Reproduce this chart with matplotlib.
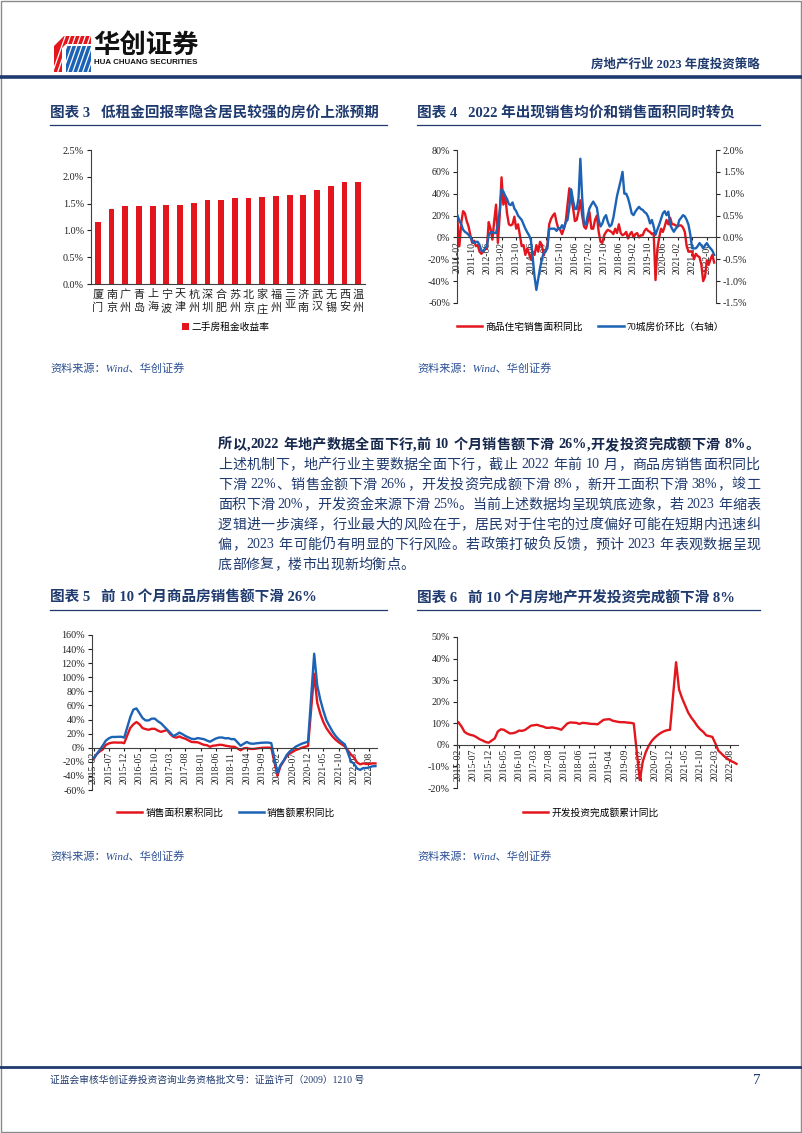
import re
import numpy as np
import pandas as pd
import matplotlib
matplotlib.use('Agg')
import matplotlib.pyplot as plt
from matplotlib.patches import Polygon, Rectangle
from matplotlib.lines import Line2D

plt.rcParams['font.family'] = ['Liberation Serif', 'Noto Sans CJK SC']
plt.rcParams['axes.unicode_minus'] = False

W, H = 802, 1133
RED = '#e3161d'
BLUE = '#1c62b5'
NAVY = '#1f3a6e'
AXC = '#404040'

# === 图表3 数据 ===
cities = ['厦门', '南京', '广州', '青岛', '上海', '宁波', '天津', '杭州', '深圳', '合肥',
          '苏州', '北京', '家庄', '福州', '三亚', '济南', '武汉', '无锡', '西安', '温州']
rent_yield = [1.16, 1.40, 1.46, 1.46, 1.46, 1.47, 1.48, 1.52, 1.56, 1.56,
              1.60, 1.60, 1.63, 1.65, 1.66, 1.66, 1.76, 1.83, 1.91, 1.91]

# === 图表4 数据 (2011-02 ~ 2022-10, 月度) ===
c4_start = '2011-02'
c4_ticks = ['2011-02', '2011-10', '2012-06', '2013-02', '2013-10', '2014-06', '2015-02',
            '2015-10', '2016-06', '2017-02', '2017-10', '2018-06', '2019-02', '2019-10',
            '2020-06', '2021-02', '2021-10', '2022-06']
res_area_yoy = [
    14, -8, 13, 24, 22, 15, 10, 2, -5, -3, -8,
    -7, -13, -15, -13, -11, -10, 14, 8, -2, 15, 30, -5,
    20, 55, 30, 38, 22, 12, 11, 12, 19, 8, 12, 2,
    -8, -7, -16, -10, -15, -20, -13, -16, -7, -13, -4, -7,
    -16, -12, -8, 12, 17, 20, 22, 14, 8, 7, 3, 8,
    14, 30, 45, 36, 27, 15, 16, 24, 34, 20, 10, 8,
    14, 23, 8, 8, 16, 20, 5, -4, -5, 2, 5, 7,
    6, 5, 3, 8, 4, 12, 4, 2, 3, 5, -1, 3,
    5, 0, 3, 4, 0, 2, 2, 6, 8, 6, 5, 3,
    4, -39, -11, 0, 8, 5, 10, 16, 12, 18, 12, 12,
    11, 10, 11, 11, 9, 5, -8, -13, -13, -13, -20, -15,
    -17, -18, -25, -40, -36, -21, -25, -20, -16, -23,
]
price70_mom = [
    0.50, 0.38, 0.30, 0.18, 0.13, 0.10, 0.06, 0.00, -0.08, -0.13, -0.10,
    -0.10, -0.17, -0.30, -0.32, -0.25, -0.20, 0.05, 0.12, 0.12, 0.10, 0.10, 0.30,
    0.60, 1.10, 1.05, 0.95, 0.88, 0.76, 0.74, 0.80, 0.66, 0.60, 0.50, 0.45,
    0.40, 0.30, 0.20, 0.12, 0.05, -0.06, -0.45, -0.90, -1.20, -0.95, -0.70, -0.50,
    -0.35, -0.32, -0.25, 0.20, 0.20, 0.20, 0.20, 0.15, 0.22, 0.20, 0.28, 0.20,
    0.35, 0.40, 0.70, 1.10, 0.85, 0.65, 0.65, 0.90, 1.80, 0.90, 0.30, 0.30,
    0.50, 0.67, 0.75, 0.82, 0.75, 0.68, 0.40, 0.25, 0.32, 0.45, 0.51, 0.35,
    0.25, 0.29, 0.45, 0.70, 0.95, 1.12, 1.30, 1.50, 1.00, 1.00, 0.90, 0.74,
    0.55, 0.51, 0.59, 0.65, 0.70, 0.65, 0.63, 0.58, 0.55, 0.47, 0.32, 0.40,
    0.25, 0.06, 0.18, 0.29, 0.42, 0.55, 0.60, 0.51, 0.59, 0.29, 0.20, 0.13,
    0.20, 0.25, 0.40, 0.45, 0.51, 0.48, 0.40, 0.29, 0.06, -0.25, -0.25, -0.25,
    -0.20, -0.13, -0.18, -0.25, -0.18, -0.13, -0.20, -0.25, -0.30, -0.40,
]

# === 图表5/6 数据 (2015-02 ~ 2022-10, 累计同比, 无1月) ===
c56_start = '2015-02'
c56_end = '2022-10'
c56_ticks = ['2015-02', '2015-07', '2015-12', '2016-05', '2016-10', '2017-03', '2017-08',
             '2018-01', '2018-06', '2018-11', '2019-04', '2019-09', '2020-02', '2020-07',
             '2020-12', '2021-05', '2021-10', '2022-03', '2022-08']
area_cum_yoy = [
    -16.3, -9.2, -5.4, -2.6, 3.9, 6.1, 7.2, 7.5, 7.2, 7.4, 6.5,
    28.2, 33.1, 36.5, 33.2, 27.9, 26.4, 25.5, 26.9, 26.8, 24.3, 22.5,
    25.1, 19.5, 15.7, 14.3, 16.1, 14.0, 12.7, 10.3, 8.2, 7.9, 7.7,
    4.1, 3.6, 1.3, 2.9, 3.3, 4.2, 4.0, 2.9, 2.2, 1.4, 1.3,
    -3.6, -0.9, -0.3, -1.6, -1.8, -1.3, -0.6, -0.1, 0.1, 0.2, -0.1,
    -39.9, -26.3, -19.3, -12.3, -8.4, -5.8, -3.3, -1.8, 0.0, 1.3, 2.6,
    104.9, 63.8, 48.1, 36.3, 27.7, 21.5, 15.9, 11.3, 7.8, 4.8, 1.9,
    -9.6, -13.8, -20.9, -23.6, -22.2, -23.1, -23.0, -22.2, -22.3,
]
amount_cum_yoy = [
    -15.2, -9.3, -3.2, 3.0, 10.0, 13.4, 15.3, 15.3, 15.5, 15.6, 14.4,
    43.6, 54.1, 55.8, 49.0, 42.1, 38.7, 38.8, 41.3, 41.3, 37.5, 34.8,
    25.8, 21.5, 16.6, 18.6, 21.5, 19.3, 16.6, 14.6, 12.6, 12.2, 13.7,
    12.2, 10.2, 8.5, 11.0, 13.2, 14.5, 14.5, 13.3, 13.6, 12.1, 12.2,
    2.8, 5.6, 8.1, 6.1, 5.6, 6.2, 6.7, 7.1, 7.3, 7.3, 6.5,
    -35.9, -24.7, -18.6, -10.6, -5.4, -2.1, 1.6, 3.7, 5.8, 7.2, 8.7,
    133.4, 88.5, 68.2, 52.4, 38.9, 30.7, 22.8, 16.6, 11.8, 8.0, 4.8,
    -19.3, -22.7, -29.5, -31.5, -28.9, -28.8, -27.9, -26.3, -26.1,
]
invest_cum_yoy = [
    10.4, 8.5, 6.0, 5.1, 4.6, 4.3, 3.5, 2.6, 2.0, 1.3, 1.0,
    3.0, 6.2, 7.2, 7.0, 6.1, 5.3, 5.4, 5.8, 6.6, 6.5, 6.9,
    8.9, 9.1, 9.3, 8.8, 8.5, 7.9, 7.9, 8.1, 7.8, 7.5, 7.0,
    9.9, 10.4, 10.3, 10.2, 9.7, 10.2, 10.1, 9.9, 9.7, 9.7, 9.5,
    11.6, 11.8, 11.9, 11.2, 10.9, 10.6, 10.5, 10.5, 10.3, 10.2, 9.9,
    -16.3, -7.7, -3.3, -0.3, 1.9, 3.4, 4.6, 5.6, 6.3, 6.8, 7.0,
    38.3, 25.6, 21.6, 18.3, 15.0, 12.7, 10.9, 8.8, 7.2, 6.0, 4.4,
    3.7, 0.7, -2.7, -4.0, -5.4, -6.4, -7.4, -8.0, -8.8,
]

lead = '所以,2022 年地产数据全面下行,前 10 个月销售额下滑 26%,开发投资完成额下滑 8%。'
paragraph = [
    '上述机制下，地产行业主要数据全面下行，截止 2022 年前 10 月，商品房销售面积同比',
    '下滑 22%、销售金额下滑 26%，开发投资完成额下滑 8%，新开工面积下滑 38%，竣工',
    '面积下滑 20%，开发资金来源下滑 25%。当前上述数据均呈现筑底迹象，若 2023 年缩表',
    '逻辑进一步演绎，行业最大的风险在于，居民对于住宅的过度偏好可能在短期内迅速纠',
    '偏，2023 年可能仍有明显的下行风险。若政策打破负反馈，预计 2023 年表观数据呈现',
    '底部修复，楼市出现新均衡点。',
]


def month_idx(s, start):
    p, p0 = pd.Period(s, 'M'), pd.Period(start, 'M')
    return (p.year - p0.year) * 12 + p.month - p0.month


c4_x = np.arange(len(res_area_yoy))
c56_months = [p for p in pd.period_range(c56_start, c56_end, freq='M') if p.month != 1]
c56_x = np.array([month_idx(str(p), c56_start) for p in c56_months])

fig = plt.figure(figsize=(W / 100, H / 100), dpi=100)
page = fig.add_axes([0, 0, 1, 1])
page.set_xlim(0, W)
page.set_ylim(H, 0)
page.axis('off')
renderer = fig.canvas.get_renderer()


def box(x0, y0, x1, y1):
    return fig.add_axes([x0 / W, 1 - y1 / H, (x1 - x0) / W, (y1 - y0) / H])


def style(ax, left=True, right=False):
    for s in ['top', 'right', 'left', 'bottom']:
        ax.spines[s].set_color(AXC)
        ax.spines[s].set_linewidth(0.8)
    ax.spines['top'].set_visible(False)
    ax.spines['right'].set_visible(right)
    ax.spines['left'].set_visible(left)
    ax.tick_params(colors='#222222', labelsize=7.3, width=0.8, length=3, pad=2)
    ax.patch.set_alpha(0)


def legend_at(ax, handles, labels, x, y, **kw):
    ax.legend(handles=handles, labels=labels, loc='center left',
              bbox_to_anchor=(x / W, 1 - y / H), bbox_transform=fig.transFigure,
              frameon=False, borderpad=0, borderaxespad=0, fontsize=7,
              ncol=len(handles), **kw)


def justified(x0, x1, y, line, fill=True, **kw):
    # 两端对齐：逐字放置，把多余宽度平均分到字间
    tokens = re.findall(r'[0-9A-Za-z%.]+| |.', line)
    objs, widths = [], []
    for tok in tokens:
        if tok == ' ':
            objs.append(None)
            widths.append(kw['fontsize'] * 100 / 72 * 0.25)
            continue
        t = page.text(x0, y, tok, va='center', ha='left', **kw)
        objs.append(t)
        widths.append(t.get_window_extent(renderer).width)
    gap = (x1 - x0 - sum(widths)) / (len(tokens) - 1) if fill else 0
    x = x0
    for t, w in zip(objs, widths):
        if t is not None:
            t.set_x(x)
        x += w + gap


# === 页面装饰 ===
page.add_patch(Rectangle((1, 1), W - 2, H - 2, fill=False, ec='#8a8a8a', lw=1))
page.add_patch(Polygon([(54, 46), (64, 36), (91, 36), (91, 44), (66, 44), (62, 48), (62, 72), (54, 72)],
                       closed=True, fc=RED, ec='none'))
page.add_patch(Rectangle((66, 46), 25, 26, fc=BLUE, ec='none'))
for k in range(9):
    page.plot([52 + k * 5, 66 + k * 5], [74, 34], color='white', lw=0.9)
page.text(93, 45, '华创证券', fontsize=19, fontweight='bold', color='#111111',
          family=['Noto Sans CJK SC'], va='center', ha='left')
page.text(94, 63, 'HUA CHUANG SECURITIES', fontsize=5.7, fontweight='bold', color='#111111',
          family=['Liberation Sans'], va='center', ha='left')
page.text(760, 64, '房地产行业 2023 年度投资策略', fontsize=9, fontweight='bold', color=NAVY,
          ha='right', va='center')
page.plot([0, W], [77, 77], color=NAVY, lw=2.6)

titles = [(50, 113, '图表 3   低租金回报率隐含居民较强的房价上涨预期'),
          (417, 113, '图表 4   2022 年出现销售均价和销售面积同时转负'),
          (50, 598, '图表 5   前 10 个月商品房销售额下滑 26%'),
          (417, 598, '图表 6   前 10 个月房地产开发投资完成额下滑 8%')]
for tx, ty, t in titles:
    page.text(tx, ty, t, fontsize=10.5, fontweight='bold', color=NAVY, va='center', ha='left')
for yy in (125, 610):
    page.plot([50, 387], [yy, yy], color=NAVY, lw=0.9)
    page.plot([417, 760], [yy, yy], color=NAVY, lw=0.9)

for sx, sy in [(50, 368), (417, 368), (50, 856), (417, 856)]:
    page.text(sx, sy, '资料来源：Wind、华创证券', fontsize=8, color='#2b4f94', style='italic',
              va='center', ha='left')

# 正文
justified(218, 760, 445, lead, fontsize=10.2, fontweight='bold', color='#17284d')
for k, line in enumerate(paragraph):
    justified(218, 760, 465 + 20 * k, line, fill=k < len(paragraph) - 1,
              fontsize=10.1, color=NAVY)

# 页脚
page.plot([0, W], [1067, 1067], color=NAVY, lw=2)
page.text(50, 1080, '证监会审核华创证券投资咨询业务资格批文号：证监许可（2009）1210 号',
          fontsize=7, color=NAVY, va='center', ha='left')
page.text(757, 1080, '7', fontsize=11, color=NAVY, va='center', ha='center')

# === 图表3 ===
ax3 = box(91, 150, 365, 284)
style(ax3)
xb = np.arange(len(cities))
ax3.bar(xb, rent_yield, width=0.42, color=RED)
ax3.set_xlim(-0.5, len(cities) - 0.5)
ax3.set_ylim(0, 2.5)
ax3.set_yticks(np.arange(0, 2.51, 0.5))
ax3.yaxis.set_major_formatter(lambda v, p: f'{v:.1f}%')
ax3.set_xticks(xb, ['\n'.join(c) for c in cities])
ax3.tick_params(axis='x', length=0, pad=4, labelsize=8)
for lab in ax3.get_xticklabels():
    lab.set_linespacing(1.35)
legend_at(ax3, [Rectangle((0, 0), 1, 1, fc=RED)], ['二手房租金收益率'], 182, 327,
          handlelength=0.7, handleheight=0.7, handletextpad=0.3)

# === 图表4 ===
ax4 = box(457, 150, 716, 303)
style(ax4)
ax4.plot(c4_x, res_area_yoy, color=RED, lw=1.7)
ax4.set_ylim(-60, 80)
ax4.set_yticks(np.arange(-60, 81, 20))
ax4.yaxis.set_major_formatter(lambda v, p: f'{v:.0f}%')
ax4.set_xlim(-0.3, 141)
ax4.spines['bottom'].set_position(('data', 0))
ax4.set_xticks([month_idx(t, c4_start) for t in c4_ticks], c4_ticks, rotation=90)
ax4.tick_params(axis='x', length=2, pad=1, labelsize=7)
ax4r = ax4.twinx()
style(ax4r, left=False, right=True)
ax4r.spines['bottom'].set_visible(False)
ax4r.plot(c4_x, price70_mom, color=BLUE, lw=1.7)
ax4r.set_ylim(-1.5, 2.0)
ax4r.set_yticks(np.arange(-1.5, 2.01, 0.5))
ax4r.yaxis.set_major_formatter(lambda v, p: f'{v:.1f}%')
legend_at(ax4r, [Line2D([], [], color=RED, lw=1.8), Line2D([], [], color=BLUE, lw=1.8)],
          ['商品住宅销售面积同比', '70城房价环比（右轴）'], 457, 327,
          handlelength=2.6, handletextpad=0.3, columnspacing=1.6)

# === 图表5 ===
ax5 = box(92, 635, 377, 790)
style(ax5)
ax5.plot(c56_x, area_cum_yoy, color=RED, lw=1.7)
ax5.plot(c56_x, amount_cum_yoy, color=BLUE, lw=1.7)
ax5.set_ylim(-60, 160)
ax5.set_yticks(np.arange(-60, 161, 20))
ax5.yaxis.set_major_formatter(lambda v, p: f'{v:.0f}%')
ax5.set_xlim(-0.5, 92.5)
ax5.spines['bottom'].set_position(('data', 0))
ax5.set_xticks([month_idx(t, c56_start) for t in c56_ticks], c56_ticks, rotation=90)
ax5.tick_params(axis='x', length=2, pad=1, labelsize=7)
legend_at(ax5, [Line2D([], [], color=RED, lw=1.8), Line2D([], [], color=BLUE, lw=1.8)],
          ['销售面积累积同比', '销售额累积同比'], 117, 813,
          handlelength=2.6, handletextpad=0.3, columnspacing=1.6)

# === 图表6 ===
ax6 = box(457, 637, 738, 788)
style(ax6)
ax6.plot(c56_x, invest_cum_yoy, color=RED, lw=1.7)
ax6.set_ylim(-20, 50)
ax6.set_yticks(np.arange(-20, 51, 10))
ax6.yaxis.set_major_formatter(lambda v, p: f'{v:.0f}%')
ax6.set_xlim(-0.5, 92.5)
ax6.spines['bottom'].set_position(('data', 0))
ax6.set_xticks([month_idx(t, c56_start) for t in c56_ticks], c56_ticks, rotation=90)
ax6.tick_params(axis='x', length=2, pad=1, labelsize=7)
legend_at(ax6, [Line2D([], [], color=RED, lw=1.8)], ['开发投资完成额累计同比'], 523, 813,
          handlelength=2.6, handletextpad=0.3)

fig.savefig('out.png', dpi=100)
